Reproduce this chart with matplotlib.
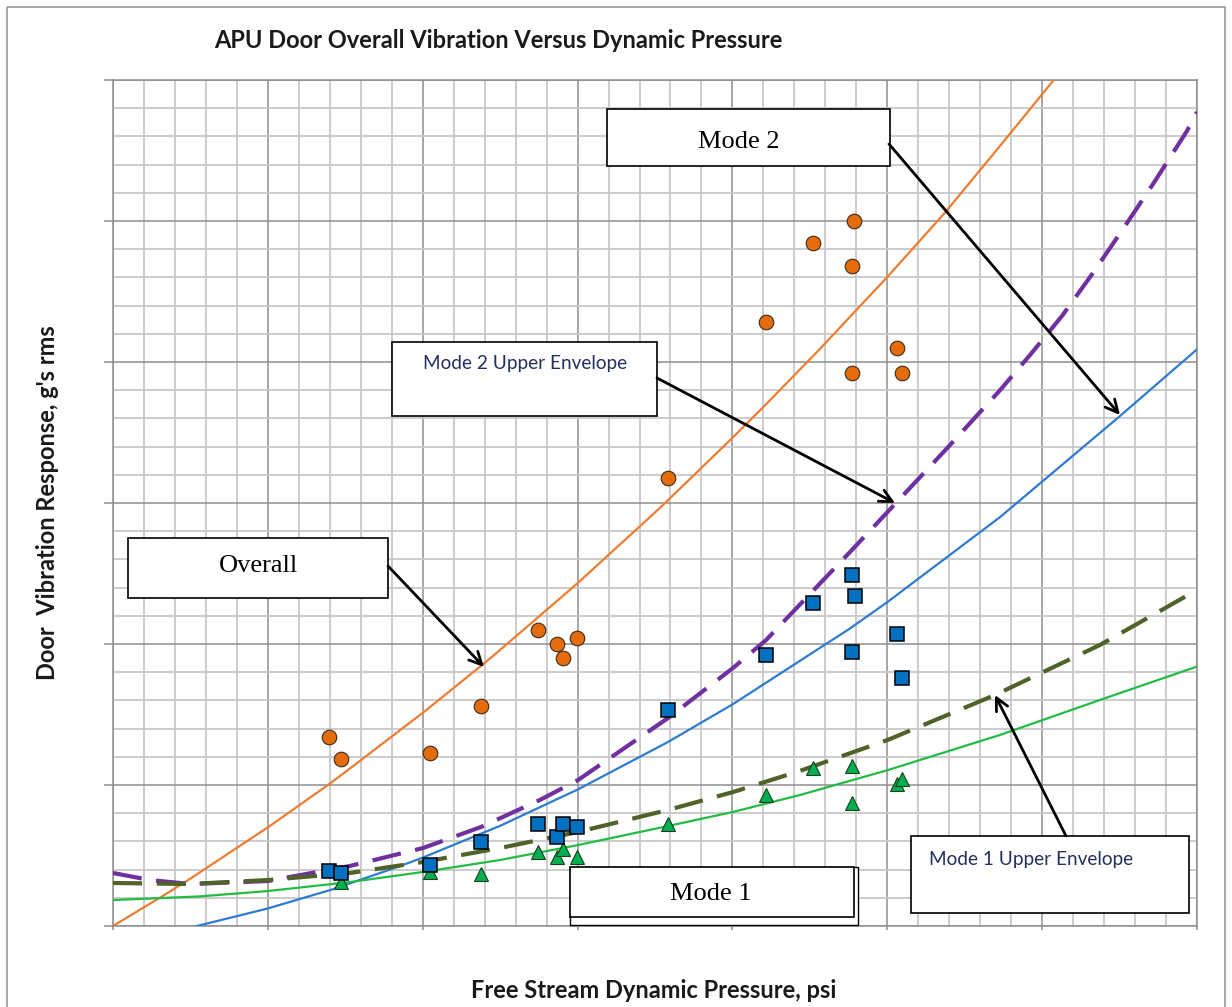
import matplotlib
matplotlib.use("Agg")
import matplotlib.pyplot as plt
from matplotlib.patches import Rectangle
from matplotlib.ticker import MultipleLocator

W, H = 1232, 1007

# measured test points (no axis numbers on the original, grid units)
q_overall = [1.395, 1.472, 2.047, 2.376, 2.744, 2.867, 2.906, 2.996,
             3.584, 4.217, 4.520, 4.772, 4.785, 4.772, 5.063, 5.095]
g_overall = [1.340, 1.184, 1.227, 1.560, 2.099, 2.000, 1.901, 2.043,
             3.177, 4.284, 4.844, 4.681, 5.000, 3.922, 4.099, 3.922]

q_mode2 = [1.395, 1.472, 2.047, 2.376, 2.744, 2.867, 2.906, 2.996,
           3.584, 4.217, 4.520, 4.772, 4.791, 4.772, 5.063, 5.095]
g_mode2 = [0.390, 0.376, 0.433, 0.596, 0.723, 0.631, 0.723, 0.702,
           1.532, 1.922, 2.291, 2.489, 2.340, 1.943, 2.071, 1.759]

q_mode1 = [1.472, 2.047, 2.376, 2.744, 2.867, 2.906, 2.996,
           3.584, 4.217, 4.520, 4.772, 4.772, 5.063, 5.095]
g_mode1 = [0.312, 0.383, 0.369, 0.525, 0.489, 0.546, 0.489,
           0.723, 0.929, 1.121, 0.872, 1.135, 1.007, 1.043]

# trend lines
fit_overall_q = [0.0, 0.323, 0.5, 1.007, 1.401, 1.5, 2.002, 2.396, 2.5,
                 3.003, 3.5, 3.584, 4.0, 4.217, 4.565, 4.998, 5.373,
                 5.7, 6.075]
fit_overall_g = [0.0, 0.214, 0.336, 0.705, 1.010, 1.092, 1.513, 1.862,
                 1.958, 2.434, 2.933, 3.020, 3.462, 3.700, 4.093, 4.600,
                 5.060, 5.495, 6.000]

fit_mode2_q = [0.542, 0.995, 1.421, 1.854, 2.002, 2.499, 3.003, 3.584,
               4.004, 4.759, 5.004, 5.728, 6.503, 7.0]
fit_mode2_g = [0.0, 0.123, 0.261, 0.425, 0.486, 0.710, 0.969, 1.305,
               1.574, 2.110, 2.300, 2.900, 3.617, 4.090]

env_mode2_q = [0.0, 0.239, 0.497, 1.001, 1.531, 2.002, 2.376, 2.757,
               3.003, 3.584, 4.004, 4.217, 4.759, 5.050, 5.405, 5.728,
               5.922, 6.128, 6.328, 6.522, 6.716, 6.935, 7.0]
env_mode2_g = [0.376, 0.326, 0.298, 0.319, 0.426, 0.553, 0.702, 0.894,
               1.035, 1.475, 1.830, 2.028, 2.652, 2.993, 3.411, 3.800,
               4.050, 4.326, 4.631, 4.943, 5.262, 5.638, 5.773]

env_mode1_q = [0.0, 0.497, 1.001, 1.531, 2.002, 2.499, 3.003, 3.584,
               4.004, 4.436, 5.004, 5.695, 6.373, 7.0]
env_mode1_g = [0.305, 0.298, 0.326, 0.376, 0.454, 0.553, 0.667, 0.823,
               0.950, 1.100, 1.320, 1.638, 1.993, 2.383]

fit_mode1_q = [0.0, 0.562, 1.001, 1.531, 2.002, 2.499, 3.003, 3.584,
               4.004, 4.436, 5.004, 5.728, 6.373, 7.0]
fit_mode1_g = [0.184, 0.210, 0.248, 0.312, 0.383, 0.468, 0.574, 0.709,
               0.809, 0.929, 1.106, 1.355, 1.603, 1.840]

fig = plt.figure(figsize=(W / 100, H / 100), dpi=100)
fig.patch.set_facecolor("white")

ax = fig.add_axes([113 / W, (H - 926) / H, (1197 - 113) / W, (926 - 80) / H])
ax.set_xlim(0, 7)
ax.set_ylim(0, 6)
ax.xaxis.set_major_locator(MultipleLocator(1))
ax.xaxis.set_minor_locator(MultipleLocator(0.2))
ax.yaxis.set_major_locator(MultipleLocator(1))
ax.yaxis.set_minor_locator(MultipleLocator(0.2))
ax.grid(which="minor", color="#c8c8c8", lw=1.3)
ax.grid(which="major", color="#8e8e8e", lw=1.1)
ax.set_axisbelow(True)
ax.tick_params(labelbottom=False, labelleft=False)
ax.tick_params(which="minor", length=0)
ax.tick_params(axis="y", which="major", direction="out", length=6.5,
               color="#8e8e8e", width=1.1)
ax.tick_params(axis="x", which="major", direction="out", length=3,
               color="#8e8e8e", width=1.1)
for sp in ax.spines.values():
    sp.set_color("#8e8e8e")
    sp.set_linewidth(1.1)

ax.plot(fit_overall_q, fit_overall_g, color="#ED7D31", lw=1.6, zorder=3)
ax.plot(fit_mode2_q, fit_mode2_g, color="#2E7BCF", lw=1.6, zorder=3)
ax.plot(fit_mode1_q, fit_mode1_g, color="#22BB44", lw=1.6, zorder=3)
ax.plot(env_mode2_q, env_mode2_g, color="#7030A0", lw=3.0,
        dashes=(7, 3.5), zorder=3)
ax.plot(env_mode1_q, env_mode1_g, color="#4F6228", lw=3.0,
        dashes=(7, 3.5), zorder=3)

ax.plot(q_overall, g_overall, "o", ms=10.5, mfc="#E46C0A", mec="#3b2a1a",
        mew=0.8, zorder=5)
ax.plot(q_mode1, g_mode1, "^", ms=10.5, mfc="#00B050", mec="#1a3d1a",
        mew=0.8, zorder=4)
ax.plot(q_mode2, g_mode2, "s", ms=10.5, mfc="#0070C0", mec="black",
        mew=1.1, zorder=5)

# overlay in pixel coordinates for titles, boxes and callouts
ov = fig.add_axes([0, 0, 1, 1])
ov.set_xlim(0, W)
ov.set_ylim(H, 0)
ov.axis("off")

ov.add_patch(Rectangle((7, 7), 1218, 1010, fill=False, ec="#9a9a9a", lw=1.2))

bold = dict(family=["Lato", "DejaVu Sans"], fontweight="bold", color="#1a1a1a")
ov.text(498, 40, "APU Door Overall Vibration Versus Dynamic Pressure",
        fontsize=17, ha="center", va="center", **bold)
ov.text(654, 990, "Free Stream Dynamic Pressure, psi",
        fontsize=17, ha="center", va="center", **bold)
ov.text(48, 503, "Door  Vibration Response, g's rms", rotation=90,
        fontsize=17, ha="center", va="center", **bold)


def box(x0, y0, x1, y1):
    ov.add_patch(Rectangle((x0, y0), x1 - x0, y1 - y0, fc="white",
                           ec="black", lw=1.2, zorder=6))


def arrow(x0, y0, x1, y1):
    ov.annotate("", xy=(x1, y1), xytext=(x0, y0), zorder=7,
                arrowprops=dict(arrowstyle="->,head_length=0.9,head_width=0.45",
                                color="black", lw=2.0,
                                shrinkA=0, shrinkB=0))


serif = dict(family=["Liberation Serif", "DejaVu Serif"], color="black",
             fontsize=19, ha="center", va="center", zorder=8)
calib = dict(family=["Lato", "DejaVu Sans"], color="#24305e",
             fontsize=13.7, va="center", zorder=8)

box(607, 109, 890, 166)
ov.text(739, 142, "Mode 2", **serif)
arrow(889, 144, 1120, 415)

box(392, 342, 657, 416)
ov.text(525, 363, "Mode 2 Upper Envelope", ha="center", **calib)
arrow(657, 378, 895, 503)

box(128, 538, 388, 598)
ov.text(259, 566, "Overall", **serif)
arrow(388, 566, 484, 667)

ov.add_patch(Rectangle((570, 867), 288, 58, fc="white", ec="black",
                       lw=1.0, zorder=6))
box(570, 867, 854, 917)
ov.text(711, 894, "Mode 1", **serif)

box(911, 836, 1189, 913)
ov.text(929, 859, "Mode 1 Upper Envelope", ha="left", **calib)
arrow(1066, 836, 995, 695)

fig.savefig("out.png", dpi=100)
